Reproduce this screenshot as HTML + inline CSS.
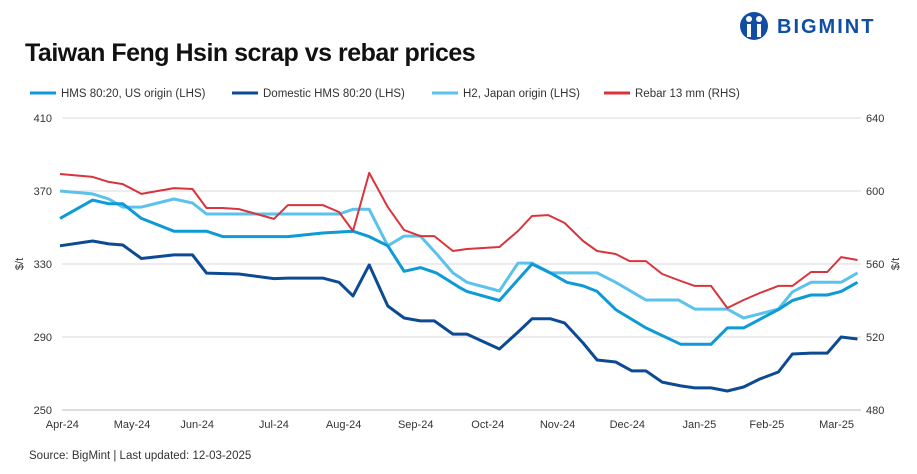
<!DOCTYPE html>
<html><head><meta charset="utf-8"><style>
body{margin:0;background:#fff;}
svg text{font-family:"Liberation Sans",sans-serif;}
</style></head><body>
<svg id="chart" width="917" height="469" xmlns="http://www.w3.org/2000/svg">
<g>
  <circle cx="754" cy="26" r="14" fill="#0f4ea3"/>
  <circle cx="749" cy="19" r="3" fill="#fff"/><circle cx="759" cy="19" r="3" fill="#fff"/>
  <rect x="747" y="24" width="4" height="13" fill="#fff"/><rect x="757" y="24" width="4" height="13" fill="#fff"/>
  <text x="777" y="33" font-size="20" font-weight="bold" fill="#0f4ea3" letter-spacing="2">BIGMINT</text>
</g>
<text x="25" y="61" font-size="25" font-weight="bold" fill="#111" letter-spacing="-0.5">Taiwan Feng Hsin scrap vs rebar prices</text>
<g id="legend" font-size="11.5" fill="#333"></g>
<g id="grid"></g><g id="axes" font-size="11" fill="#333"></g><g id="series"></g>
<text transform="translate(23,264) rotate(-90)" text-anchor="middle" font-size="11" fill="#333">$/t</text>
<text transform="translate(899,264) rotate(-90)" text-anchor="middle" font-size="11" fill="#333">$/t</text>
<text x="29" y="459" font-size="11.5" fill="#333">Source: BigMint |  Last updated: 12-03-2025</text>
</svg>
<script>
// data: days since 2024-04-01
const monthLabels=["Apr-24","May-24","Jun-24","Jul-24","Aug-24","Sep-24","Oct-24","Nov-24","Dec-24","Jan-25","Feb-25","Mar-25"];
const monthDays=[1,31,59,92,122,153,184,214,244,275,304,334];
const leftTicks=[250,290,330,370,410];
const rightTicks=[480,520,560,600,640];
const hmsUsDays=[0,14,21,27,35,49,63,70,98,113,126,133,141,148,155,162,172,175,189,203,211,218,225,231,239,252,267,280,287,294,309,315,323,330,336,343];
const hmsUsValues=[355,365,363,363,355,348,348,345,345,347,348,345,340,326,328,325,317,315,310,330,325,320,318,315,305,295,286,286,295,295,305,310,313,313,315,320];
const domesticDays=[0,14,21,27,35,49,57,63,77,92,98,113,120,126,133,141,148,155,161,169,175,189,197,203,211,217,225,231,239,246,252,259,267,273,280,287,294,301,309,315,323,330,336,343];
const domesticValues=[340,342.6,341,340.4,333,335,335,325,324.5,322,322.3,322.3,320,312.5,329.5,307,300.4,298.8,298.8,291.6,291.6,283.4,292.7,300,300,297.7,286.7,277.4,276.3,271.4,271.4,265.3,263.2,262.1,262.1,260.4,262.6,267,270.8,280.7,281.2,281.2,290,288.9];
const h2Days=[0,14,21,27,35,49,57,63,113,120,126,133,141,148,155,162,169,175,189,197,203,211,231,239,252,266,273,287,294,309,315,323,336,343];
const h2Values=[370,368.4,365.6,361.2,361.2,365.6,363.4,357.4,357.4,357.4,360,360,340,345.3,345.3,335.5,325.1,320,315.2,330.5,330.5,325.1,325.1,320,310.3,310.3,305.3,305.3,300.4,305.3,314.7,320,320,325.1];
const rebarDays=[0,14,21,27,35,49,57,63,70,77,92,98,113,120,126,133,141,148,155,161,169,175,189,197,203,210,217,225,231,239,245,252,259,267,273,280,287,294,301,309,315,323,330,336,343];
const rebarValues=[609.3,607.7,605,603.8,598.4,601.6,601.1,590.7,590.7,590.1,584.7,592.3,592.3,588.5,578.1,609.9,591.2,578.6,575.3,575.3,567.1,568.2,569.3,578.1,586.3,586.8,582.5,572.6,567.1,565.5,561.6,561.6,554.5,550.7,548,548,535.9,540.3,544.1,548,548,555.6,555.6,563.8,562.2];

const NS="http://www.w3.org/2000/svg";
const X=d=>60+2.325*d;
const YL=v=>118+(410-v)*73/40;
const YR=v=>118+(640-v)*73/40;
function mk(tag,attrs,parent){const e=document.createElementNS(NS,tag);for(const k in attrs)e.setAttribute(k,attrs[k]);parent.appendChild(e);return e;}
const grid=document.getElementById('grid'),axes=document.getElementById('axes'),ser=document.getElementById('series'),leg=document.getElementById('legend');
leftTicks.forEach((t,i)=>{
  const l=mk('line',{x1:62,x2:861,y1:YL(t),y2:YL(t),stroke:t===250?'#bbb':'#d9d9d9','stroke-width':1},grid);
  
  
  const a=mk('text',{x:52,y:YL(t)+4,'text-anchor':'end'},axes);a.textContent=t;
  
  
  const b=mk('text',{x:866,y:YR(rightTicks[i])+4},axes);b.textContent=rightTicks[i];
  
  
});
monthLabels.forEach((m,i)=>{
  const t=mk('text',{x:X(monthDays[i]),y:428,'text-anchor':'middle'},axes);t.textContent=m;
  
  
});
const series=[
 {name:'H2, Japan origin (LHS)',days:h2Days,vals:h2Values,y:YL,color:'#5bc2ec',w:3,id:'h2-japan-line'},
 {name:'HMS 80:20, US origin (LHS)',days:hmsUsDays,vals:hmsUsValues,y:YL,color:'#0e9ad6',w:3,id:'hms-us-line'},
 {name:'Domestic HMS 80:20 (LHS)',days:domesticDays,vals:domesticValues,y:YL,color:'#0d4a94',w:3,id:'domestic-hms-line'},
 {name:'Rebar 13 mm (RHS)',days:rebarDays,vals:rebarValues,y:YR,color:'#d9343c',w:2,id:'rebar-line'}];
series.forEach(s=>{
  const p=mk('polyline',{points:s.days.map((d,i)=>X(d).toFixed(1)+','+s.y(s.vals[i]).toFixed(1)).join(' '),fill:'none',stroke:s.color,'stroke-width':s.w,'stroke-linejoin':'round'},ser);
  
  
});
const legOrder=[[1,30],[2,232],[0,432],[3,604]];
legOrder.forEach(([k,x])=>{
  const s=series[k];
  const g=mk('g',{},leg);
  
  
  mk('line',{x1:x,x2:x+26,y1:93,y2:93,stroke:s.color,'stroke-width':3},g);
  const t=mk('text',{x:x+31,y:97},g);t.textContent=s.name;
});
</script>
</body></html>
